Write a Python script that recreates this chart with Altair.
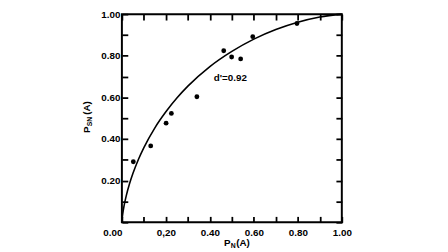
import altair as alt
import pandas as pd

# Observed points (P_N(A), P_SN(A))
pn = [0.052, 0.131, 0.201, 0.225, 0.341, 0.463, 0.499, 0.540, 0.595, 0.796]
psn = [0.291, 0.367, 0.476, 0.523, 0.603, 0.824, 0.794, 0.785, 0.892, 0.955]

# Theoretical ROC curve (d' = 0.92)
curve_x = [0, 0.002, 0.005, 0.01, 0.02, 0.035, 0.05, 0.075, 0.1, 0.15, 0.2,
           0.25, 0.3, 0.4, 0.5, 0.6, 0.7, 0.8, 0.9, 1.0]
curve_y = [0, 0.025, 0.049, 0.080, 0.128, 0.186, 0.234, 0.302, 0.359, 0.454,
           0.531, 0.597, 0.654, 0.748, 0.821, 0.880, 0.926, 0.961, 0.986, 1.0]

tick_vals = [0, 0.1, 0.2, 0.3, 0.4, 0.5, 0.6, 0.7, 0.8, 0.9, 1.0]
label_vals = [0, 0.2, 0.4, 0.6, 0.8, 1.0]
x_label_text = ["0.00", "0,20", "0.40", "0.60", "0.80", "1.00"]
y_label_text = ["", "0.20", "0.40", "0.60", "0.80", "1.00"]
annotation = "d'=0.92"
ann_x = [0.493]
ann_y = [0.692]

FONT = "Liberation Sans"
TS = 6  # inward tick length, px

pts = pd.DataFrame({"x": pn, "y": psn})
curve = pd.DataFrame({"x": curve_x, "y": curve_y})
ann_df = pd.DataFrame({"x": ann_x, "y": ann_y, "label": [annotation]})
frame_df = pd.DataFrame({"x0": [0], "x1": [1], "y0": [0], "y1": [1]})
one = pd.DataFrame({"k": [0]})

def expr_map(vals, texts):
    parts = []
    for v, t in zip(vals, texts):
        parts.append(f"abs(datum.value - {v}) < 1e-6 ? '{t}'")
    return " : ".join(parts) + " : ''"

xs = alt.Scale(domain=[0, 1], nice=False, zero=False)
ys = alt.Scale(domain=[0, 1], nice=False, zero=False)

common = dict(values=tick_vals, domain=False, grid=False, title=None,
              ticks=True, tickSize=TS, tickWidth=1.8, tickColor="black",
              offset=-TS, labelFont=FONT, labelFontWeight="bold",
              labelFontSize=10, labelColor="black", labelFlush=False)

x_bottom = alt.Axis(orient="bottom", labelExpr=expr_map(label_vals, x_label_text),
                    labelPadding=5,
                    labelAlign={"condition": {"test": "datum.value == 0", "value": "right"},
                                "value": "center"}, **common)
y_left = alt.Axis(orient="left", labelExpr=expr_map(label_vals, y_label_text),
                  labelPadding=2, **common)
x_top = alt.Axis(orient="top", labels=False, **common)
y_right = alt.Axis(orient="right", labels=False, **common)

line = alt.Chart(curve).mark_line(color="black", strokeWidth=1.6, interpolate="monotone").encode(
    x=alt.X("x:Q", scale=xs, axis=x_bottom),
    y=alt.Y("y:Q", scale=ys, axis=y_left),
)

dots = alt.Chart(pts).mark_circle(color="black", opacity=1, size=24).encode(
    x=alt.X("x:Q", scale=xs, axis=x_top),
    y=alt.Y("y:Q", scale=ys, axis=y_right),
)

frame = alt.Chart(frame_df).mark_rect(fill="transparent", stroke="black", strokeWidth=2).encode(
    x=alt.X("x0:Q", scale=xs, axis=None), x2="x1:Q",
    y=alt.Y("y0:Q", scale=ys, axis=None), y2="y1:Q")

ann = alt.Chart(ann_df).mark_text(font=FONT, fontWeight="bold", fontSize=10,
                                  color="black", align="center", baseline="middle").encode(
    x=alt.X("x:Q", scale=xs, axis=None), y=alt.Y("y:Q", scale=ys, axis=None),
    text="label:N")

def txt(t, x, y, size, angle=0, align="left"):
    kw = dict(text=t, font=FONT, fontWeight="bold", fontSize=size, color="black",
              align=align, baseline="alphabetic")
    if angle:
        kw["angle"] = angle
    return alt.Chart(one).mark_text(**kw).encode(x=alt.value(x), y=alt.value(y))

# x title  P_N(A)
xt1 = txt("P", 104, 236, 10)
xt2 = txt("N", 110.8, 238.5, 7)
xt3 = txt("(A)", 116.5, 236, 10)
# y title  P_SN (A)
yt1 = txt("P", -32, 121, 10, angle=270)
yt2 = txt("SN", -30, 114.3, 7, angle=270)
yt3 = txt("(A)", -32, 102.5, 10, angle=270)

chart = alt.layer(frame, line, dots, ann,
                  xt1, xt2, xt3, yt1, yt2, yt3).resolve_axis(
    x="independent", y="independent"
).properties(
    width=224, height=212,
    autosize=alt.AutoSizeParams(type="none"),
    padding={"left": 116, "top": 4, "right": 100, "bottom": 28},
    background="white",
).configure_view(stroke=None)

chart.save("out.html", embed_options={"renderer": "svg", "actions": False})
